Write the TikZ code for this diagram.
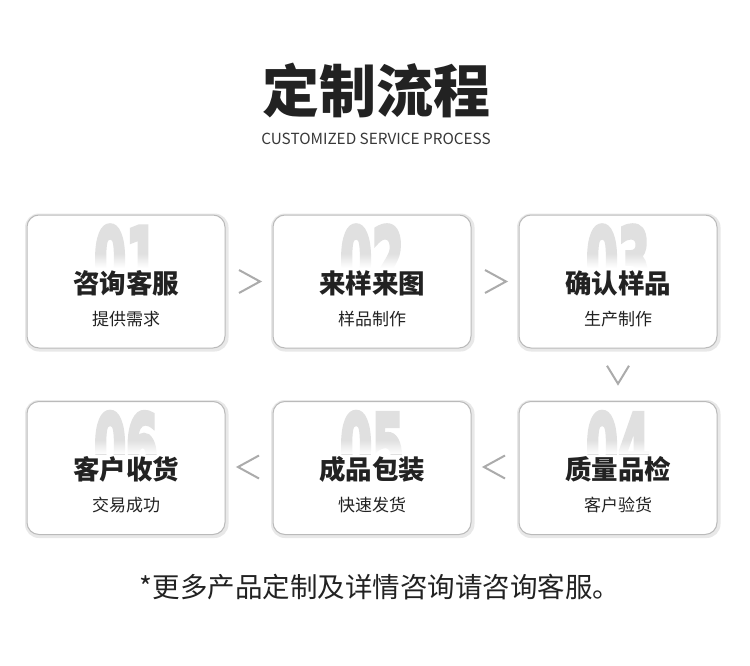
\documentclass[tikz,border=0pt]{standalone}
\usepackage{graphicx}
\usepackage{fontspec}
\setmainfont{Noto Sans CJK SC}
\newfontfamily\numfont{DejaVu Sans}
\usetikzlibrary{calc,fadings}
\definecolor{ink}{HTML}{222222}
\definecolor{chevc}{HTML}{ABABAB}
\definecolor{numgray}{HTML}{E0E0E0}
\newcommand\heavydigits[1]{\scalebox{0.52}[1]{\special{pdf:literal direct 2 Tr 5 w 0 J 0 j}#1}}
\begin{document}
\begin{tikzpicture}[x=1pt,y=-1pt,
  card/.style={draw=black!27, line width=1pt, rounded corners=12pt, minimum width=198pt, minimum height=133pt, fill=white, inner sep=0pt},
  cardshade/.style={fill=black!9, rounded corners=14pt},
  bignum/.style={inner sep=0pt, anchor=north, text=numgray, font=\numfont\bfseries\fontsize{88}{88}\selectfont},
  ctitle/.style={inner sep=0pt, text=ink, font=\bfseries\fontsize{26.5}{30}\selectfont},
  csub/.style={inner sep=0pt, text=ink, font=\fontsize{17}{20}\selectfont},
  chevron/.style={draw=chevc, line width=2pt, line join=miter},
]
\fill[white] (0,0) rectangle (750,666);
\useasboundingbox (0,0) rectangle (750,666);

\node[inner sep=0pt, text=ink, font=\bfseries\fontsize{57}{60}\selectfont] (title) at (376,90) {定制流程};
\node[inner sep=0pt, text=ink!90, font=\fontsize{15.3}{17}\selectfont] (subtitle) at (376,139) {CUSTOMIZED SERVICE PROCESS};

\foreach \i/\x/\y/\t/\s in {1/126/281.5/咨询客服/提供需求, 2/372/281.5/来样来图/样品制作, 3/618/281.5/确认样品/生产制作, 4/618/468/质量品检/客户验货, 5/372/468/成品包装/快速发货, 6/126/468/客户收货/交易成功}{
  \fill[cardshade] (\x-101,\y-68) rectangle (\x+102.5,\y+70);
  \node[card] (b\i) at (\x,\y) {};
  \begin{scope}
    \clip (\x-98,\y-66) rectangle (\x+98,\y-14);
    \node[bignum] (n\i) at (\x,\y-56) {\heavydigits{0\i}};
    \fill[white, path fading=north] (\x-98,\y-28) rectangle (\x+98,\y-14);
  \end{scope}
  \node[ctitle] (t\i) at (\x,\y+1.5) {\t};
  \node[csub] (s\i) at (\x,\y+37.5) {\s};
}

\coordinate (c12) at ($(b1.east)!0.5!(b2.west)$);
\coordinate (c23) at ($(b2.east)!0.5!(b3.west)$);
\coordinate (c34) at ($(b3.south)!0.5!(b4.north)$);
\coordinate (c45) at ($(b5.east)!0.5!(b4.west)$);
\coordinate (c56) at ($(b6.east)!0.5!(b5.west)$);

\draw[chevron] ($(c12)+(-10,-11.5)$) -- ++(21,11.5) -- ++(-21,11.5);
\draw[chevron] ($(c23)+(-10,-11.5)$) -- ++(21,11.5) -- ++(-21,11.5);
\draw[chevron] ($(c34)+(-11,-9)$) -- ++(11,18) -- ++(11,-18);
\draw[chevron] ($(c45)+(10,-12.5)$) -- ++(-21,11.5) -- ++(21,11.5);
\draw[chevron] ($(c56)+(10,-12.5)$) -- ++(-21,11.5) -- ++(21,11.5);

\node[inner sep=0pt, text=ink, font=\fontsize{27.5}{30}\selectfont] (note) at (380,587) {*更多产品定制及详情咨询请咨询客服。};
\end{tikzpicture}
\end{document}
